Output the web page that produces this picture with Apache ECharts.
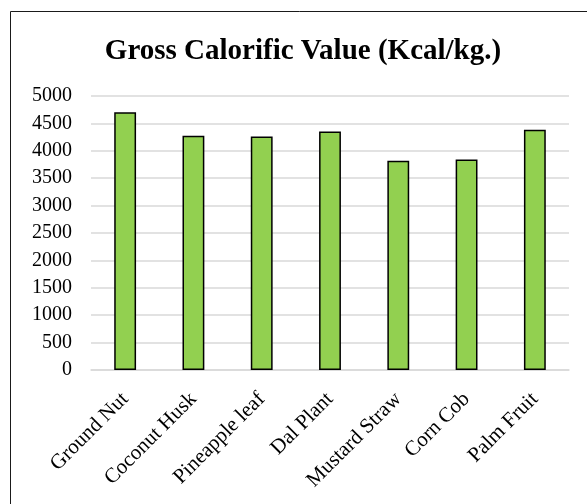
<!DOCTYPE html>
<html>
<head>
<meta charset="utf-8">
<script src="https://cdn.jsdelivr.net/npm/echarts@6/dist/echarts.min.js"></script>
<style>
  html, body { margin: 0; padding: 0; background: #fff; }
  #chart { width: 587px; height: 504px; }
</style>
</head>
<body>
<div id="chart"></div>
<script>
// Biomass fuels and their gross calorific value (Kcal/kg)
const categories = ['Ground Nut', 'Coconut Husk', 'Pineapple leaf', 'Dal Plant', 'Mustard Straw', 'Corn Cob', 'Palm Fruit'];
const calorificValues = [4705, 4275, 4262, 4350, 3820, 3843, 4385];
const yTicks = { min: 0, max: 5000, step: 500 };
const chartTitle = 'Gross Calorific Value (Kcal/kg.)';

const chart = echarts.init(document.getElementById('chart'), null, { renderer: 'canvas' });
const serif = '"Liberation Serif", "Times New Roman", serif';

chart.setOption({
  animation: false,
  backgroundColor: '#ffffff',
  graphic: [
    {
      type: 'rect',
      shape: { x: 10.5, y: 11.5, width: 700, height: 700 },
      style: { fill: 'none', stroke: '#1a1a1a', lineWidth: 1 },
      silent: true
    },
    {
      type: 'text',
      x: 303,
      y: 37,
      style: {
        text: chartTitle,
        textAlign: 'center',
        textVerticalAlign: 'top',
        fontFamily: serif,
        fontSize: 29,
        fontWeight: 'bold',
        fill: '#000'
      },
      silent: true
    }
  ],
  grid: { left: 91, right: 18, top: 96, bottom: 134, containLabel: false },
  xAxis: {
    type: 'category',
    data: categories,
    axisLine: { show: true, lineStyle: { color: '#d9d9d9', width: 1.5 } },
    axisTick: { show: false },
    axisLabel: {
      rotate: 45,
      margin: 26,
      interval: 0,
      fontFamily: serif,
      fontSize: 21,
      color: '#000'
    }
  },
  yAxis: {
    type: 'value',
    min: yTicks.min,
    max: yTicks.max,
    interval: yTicks.step,
    axisLine: { show: false },
    axisTick: { show: false },
    splitLine: { lineStyle: { color: '#d9d9d9', width: 1.5 } },
    axisLabel: {
      margin: 19,
      fontFamily: serif,
      fontSize: 20,
      color: '#000',
      formatter: v => String(v)
    }
  },
  series: [{
    type: 'bar',
    data: calorificValues,
    barWidth: '32%',
    itemStyle: { color: '#92d050', borderColor: '#000', borderWidth: 1.5 }
  }]
});
</script>
</body>
</html>
